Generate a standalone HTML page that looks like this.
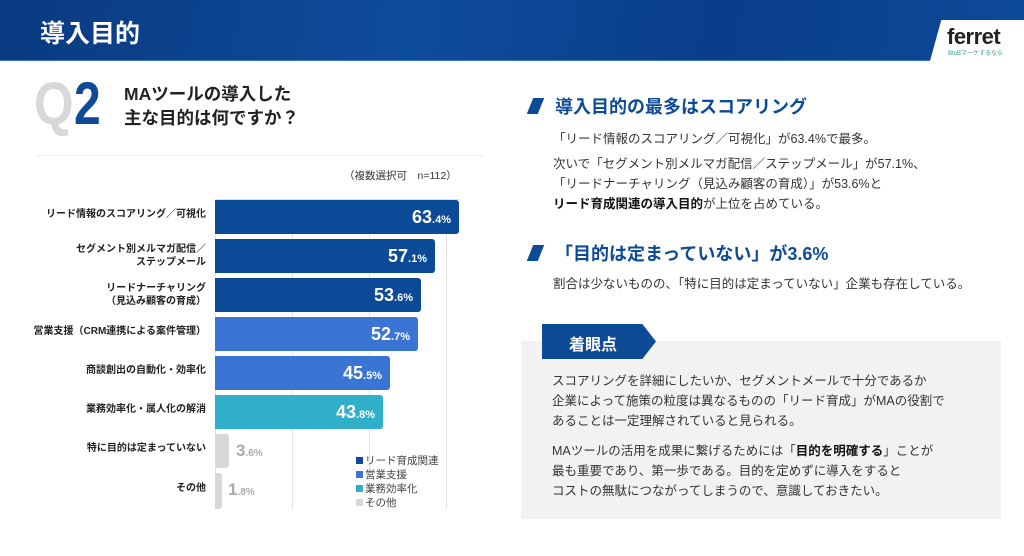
<!DOCTYPE html>
<html><head><meta charset="utf-8"><style>
*{margin:0;padding:0;box-sizing:border-box}
body{width:1024px;height:556px;background:#fff;position:relative;overflow:hidden;font-family:"Liberation Sans","Noto Sans CJK JP",sans-serif;color:#222}
.a{position:absolute;white-space:nowrap}
.hdr{left:0;top:0;width:1024px;height:61px;background:linear-gradient(100deg,#0a3a80 0%,#0e4c9c 40%,#0a3e8a 70%,#0d4a98 100%);border-bottom:1px solid #3e76c6}
.lbl{right:818px;font-size:10px;font-weight:bold;text-align:right;line-height:13px}
.bar{left:215px;height:34px;border-radius:0 3px 3px 0}
.v{color:#fff;font-weight:bold;font-size:18px;text-align:right;padding-right:8px;line-height:34px}
.v small{font-size:11px}
.g{top:199px;height:310px;width:1px;background:#e4e4e4}
.p{font-size:12.5px;color:#333;line-height:20px}
</style></head><body>
<div class="a hdr"></div>
<div class="a" style="left:40px;top:14px;font-size:25px;font-weight:bold;color:#fff">導入目的</div>
<div class="a" style="left:930px;top:20px;width:94px;height:41px;background:#fff;clip-path:polygon(12% 0,100% 0,100% 100%,0 100%)"></div>
<div class="a" style="left:947px;top:24px;font-size:22px;font-weight:bold;color:#222;letter-spacing:-0.5px">ferret</div>
<div class="a" style="left:948px;top:48px;font-size:6px;color:#3a9a8a">BtoBマーケするなら</div>

<div class="a" style="left:34px;top:74px;font-size:60px;font-weight:bold;color:#d8d8d8;line-height:60px;transform:scaleX(.85);transform-origin:left">Q</div>
<div class="a" style="left:74px;top:74px;font-size:60px;font-weight:bold;color:#0d4b97;line-height:60px;transform:scaleX(.8);transform-origin:left">2</div>
<div class="a" style="left:124px;top:82px;font-size:17.5px;font-weight:bold;line-height:24px">MAツールの導入した<br>主な目的は何ですか？</div>
<div class="a" style="left:36px;top:155px;width:448px;height:1px;background:#eee"></div>
<div class="a" style="left:344px;top:168px;font-size:10.5px;color:#333">（複数選択可　n=112）</div>

<div class="a g" style="left:215px"></div>
<div class="a g" style="left:292px"></div>
<div class="a g" style="left:369px"></div>
<div class="a g" style="left:446px"></div>
<div class="a" style="left:215px;top:199px;width:244px;height:1px;background:#cfe0f5"></div>

<div class="a lbl" style="top:208px">リード情報のスコアリング／可視化</div>
<div class="a bar v" style="top:200px;width:244px;background:#0b4a96">63<small>.4%</small></div>
<div class="a lbl" style="top:243px">セグメント別メルマガ配信／<br>ステップメール</div>
<div class="a bar v" style="top:239px;width:220px;background:#0b4a96">57<small>.1%</small></div>
<div class="a lbl" style="top:282px">リードナーチャリング<br>（見込み顧客の育成）</div>
<div class="a bar v" style="top:278px;width:206px;background:#0b4a96">53<small>.6%</small></div>
<div class="a lbl" style="top:325px">営業支援（CRM連携による案件管理）</div>
<div class="a bar v" style="top:317px;width:203px;background:#3a75d4">52<small>.7%</small></div>
<div class="a lbl" style="top:364px">商談創出の自動化・効率化</div>
<div class="a bar v" style="top:356px;width:175px;background:#3a75d4">45<small>.5%</small></div>
<div class="a lbl" style="top:403px">業務効率化・属人化の解消</div>
<div class="a bar v" style="top:395px;width:168px;background:#2fafc9">43<small>.8%</small></div>
<div class="a lbl" style="top:442px">特に目的は定まっていない</div>
<div class="a bar" style="top:434px;width:14px;background:#d8d8d8"></div>
<div class="a" style="left:236px;top:441px;font-size:17px;font-weight:bold;color:#aaa">3<small style="font-size:10px">.6%</small></div>
<div class="a lbl" style="top:482px">その他</div>
<div class="a bar" style="top:473px;width:7px;height:36px;background:#d8d8d8"></div>
<div class="a" style="left:228px;top:480px;font-size:17px;font-weight:bold;color:#aaa">1<small style="font-size:10px">.8%</small></div>

<div class="a" style="left:356px;top:454px;font-size:10.5px;line-height:14px;color:#444">
<div><span style="display:inline-block;width:7px;height:7px;background:#0b4a96;margin-right:2px"></span>リード育成関連</div>
<div><span style="display:inline-block;width:7px;height:7px;background:#3a75d4;margin-right:2px"></span>営業支援</div>
<div><span style="display:inline-block;width:7px;height:7px;background:#2fafc9;margin-right:2px"></span>業務効率化</div>
<div><span style="display:inline-block;width:7px;height:7px;background:#d8d8d8;margin-right:2px"></span>その他</div>
</div>

<div class="a" style="left:530px;top:98px;width:11px;height:16px;background:#0d4b97;transform:skewX(-22deg)"></div>
<div class="a" style="left:555px;top:93px;font-size:18px;font-weight:bold;color:#0d4b97">導入目的の最多はスコアリング</div>
<div class="a p" style="left:553px;top:129px">「リード情報のスコアリング／可視化」が63.4%で最多。</div>
<div class="a p" style="left:553px;top:154px">次いで「セグメント別メルマガ配信／ステップメール」が57.1%、<br>「リードナーチャリング（見込み顧客の育成）」が53.6%と<br><b style="color:#111">リード育成関連の導入目的</b>が上位を占めている。</div>
<div class="a" style="left:530px;top:245px;width:11px;height:16px;background:#0d4b97;transform:skewX(-22deg)"></div>
<div class="a" style="left:555px;top:240px;font-size:18px;font-weight:bold;color:#0d4b97">「目的は定まっていない」が3.6%</div>
<div class="a p" style="left:553px;top:274px">割合は少ないものの、「特に目的は定まっていない」企業も存在している。</div>

<div class="a" style="left:521px;top:341px;width:480px;height:178px;background:#f2f2f2"></div>
<div class="a" style="left:542px;top:324px;width:114px;height:35px;background:#0d4b97;clip-path:polygon(0 0,88% 0,100% 50%,88% 100%,0 100%)"></div>
<div class="a" style="left:569px;top:331px;font-size:16px;font-weight:bold;color:#fff">着眼点</div>
<div class="a p" style="left:552px;top:371px">スコアリングを詳細にしたいか、セグメントメールで十分であるか<br>企業によって施策の粒度は異なるものの「リード育成」がMAの役割で<br>あることは一定理解されていると見られる。</div>
<div class="a p" style="left:552px;top:441px">MAツールの活用を成果に繋げるためには「<b style="color:#111">目的を明確する</b>」ことが<br>最も重要であり、第一歩である。目的を定めずに導入をすると<br>コストの無駄につながってしまうので、意識しておきたい。</div>
</body></html>
